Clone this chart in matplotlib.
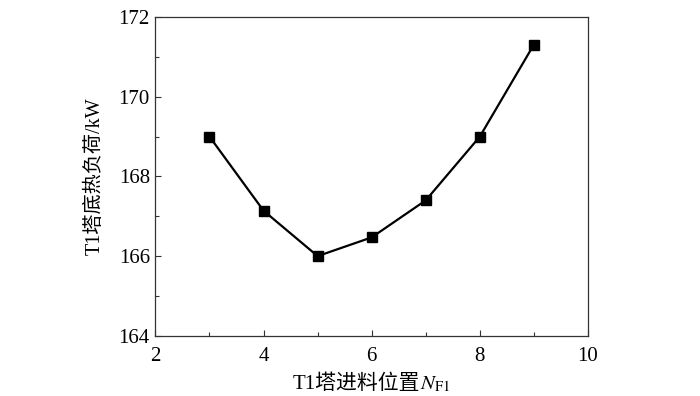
import numpy as np
import matplotlib
matplotlib.use("Agg")
import matplotlib.pyplot as plt
from matplotlib.ticker import MultipleLocator

# fonts: Times-like for latin, CJK fallback for Chinese
plt.rcParams['font.family'] = ['Liberation Serif', 'Noto Sans CJK SC']
plt.rcParams['mathtext.fontset'] = 'stix'

# data
feed_stage = [3, 4, 5, 6, 7, 8, 9]
reboiler_duty = [169.0, 167.14, 166.0, 166.47, 167.4, 169.0, 171.31]

fig = plt.figure(figsize=(7, 3.96), dpi=100)
ax = fig.add_axes([0.222, 0.152, 0.618, 0.805])

ax.plot(feed_stage, reboiler_duty, color="black", linewidth=1.6,
        marker="s", markersize=7.5)

ax.set_xlim(2, 10)
ax.set_ylim(164, 172)
ax.xaxis.set_major_locator(MultipleLocator(2))
ax.xaxis.set_minor_locator(MultipleLocator(1))
ax.yaxis.set_major_locator(MultipleLocator(2))
ax.yaxis.set_minor_locator(MultipleLocator(1))
ax.tick_params(which="both", direction="in", top=False, right=False,
               labelsize=15, color="#333333", width=0.8)
ax.tick_params(which="major", length=4, pad=4)
ax.tick_params(axis="x", which="major", pad=8)
ax.tick_params(which="minor", length=3)
for s in ax.spines.values():
    s.set_color("#333333")
    s.set_linewidth(0.9)

ax.set_ylabel("T1塔底热负荷/kW", fontsize=14.5, labelpad=10)

# x label: Chinese part + math N_F1 (mathtext has no CJK fallback)
renderer = fig.canvas.get_renderer()
t1 = fig.text(0, 0, "T1塔进料位置", fontsize=15)
t2 = fig.text(0, 0, r"$N_{\mathrm{F1}}$", fontsize=15)
w1 = t1.get_window_extent(renderer).width
w2 = t2.get_window_extent(renderer).width
cx = (0.222 + 0.618 / 2) * fig.bbox.width
total = w1 + w2
y_base = 7
t1.set_transform(None)
t1.set_position((cx - total / 2, y_base))
t1.set_va("baseline")
t2.set_transform(None)
t2.set_position((cx - total / 2 + w1, y_base))
t2.set_va("baseline")

fig.savefig("out.png", dpi=100)
